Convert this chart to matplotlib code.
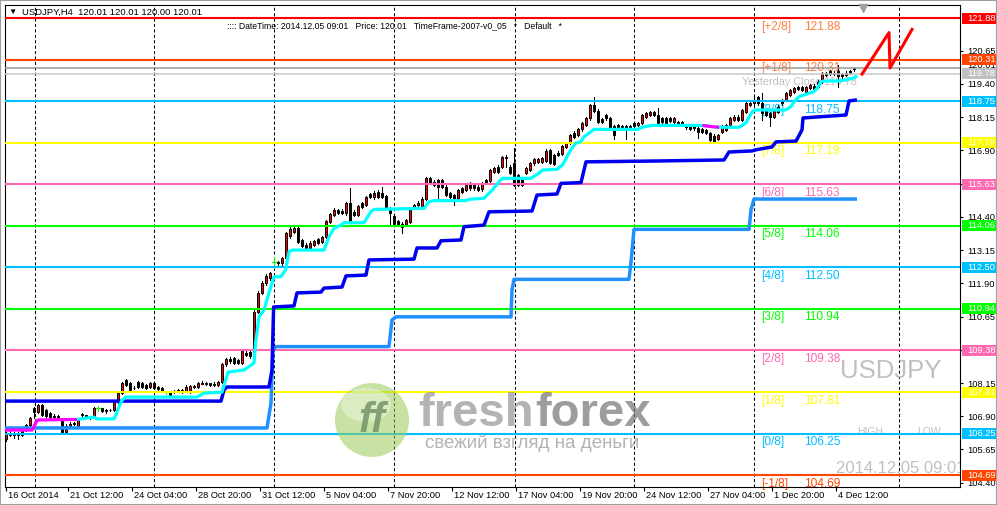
import matplotlib
matplotlib.use("Agg")
import matplotlib.pyplot as plt
from matplotlib.patches import Rectangle, Ellipse
from matplotlib.transforms import blended_transform_factory, ScaledTranslation

plt.rcParams['font.family'] = ['Liberation Sans', 'DejaVu Sans']

# ---------------- data (USDJPY H4, bar index 0 = first visible bar) ----------------
opens = [106.03,106.26,106.21,106.25,106.20,106.38,106.56,107.20,107.07,107.32,
         107.12,107.02,106.88,106.92,106.72,106.32,106.55,106.62,106.55,106.99,
         106.93,106.91,106.86,107.20,107.20,107.08,107.12,107.14,107.45,107.76,
         108.27,108.14,107.98,108.20,108.14,108.08,108.01,108.16,108.01,107.97,
         107.80,107.83,107.82,107.84,107.89,107.83,107.83,108.04,108.01,108.16,
         108.12,108.14,108.08,108.08,108.20,108.85,109.05,109.08,109.01,108.89,
         109.29,109.33,109.30,110.83,111.55,111.90,112.09,112.71,112.69,112.65,
         112.84,113.68,113.84,113.97,113.53,113.34,113.21,113.34,113.55,113.46,
         113.65,114.22,114.47,114.66,114.63,114.53,114.91,114.59,114.47,114.91,
         114.84,115.26,115.13,115.35,115.31,115.18,114.72,114.43,114.25,114.15,
         114.09,114.22,114.78,114.84,114.72,115.09,115.85,115.72,115.79,115.79,
         115.53,115.28,115.22,115.10,115.47,115.41,115.66,115.60,115.53,115.43,
         115.79,115.75,116.10,116.29,116.26,116.60,116.29,116.44,115.97,115.85,
         116.04,116.16,116.41,116.47,116.47,116.51,116.91,116.73,116.81,116.76,
         117.04,117.19,117.57,117.48,117.69,117.85,118.10,118.61,118.39,118.07,
         118.23,118.10,117.82,117.85,117.82,117.82,117.82,117.92,117.85,117.92,
         118.17,118.24,118.36,118.24,118.11,118.11,118.11,117.98,117.98,117.95,
         117.86,117.80,117.80,117.73,117.70,117.67,117.55,117.45,117.32,117.61,
         117.67,117.86,118.05,118.17,118.05,118.36,118.61,118.67,118.92,118.67,
         118.42,118.30,118.17,118.36,118.80,118.80,118.99,119.11,119.30,119.27,
         119.11,119.24,119.33,119.49,119.49,119.80,119.87,119.83,119.87,119.78,
         119.74,119.90,119.95]
closes = [106.26,106.21,106.25,106.20,106.38,106.56,106.84,107.07,107.32,106.95,
          106.92,106.88,106.92,106.88,106.32,106.55,106.62,106.63,106.76,106.93,
          106.91,106.86,107.20,107.20,107.08,107.12,107.14,107.45,107.76,108.14,
          108.08,107.89,107.95,108.01,108.01,107.95,108.14,107.95,107.91,107.89,
          107.80,107.70,107.84,107.89,107.83,108.01,108.04,108.01,108.16,108.12,
          108.14,108.08,108.12,108.20,108.85,109.05,108.98,108.90,108.90,109.39,
          109.22,109.16,110.83,111.55,111.90,112.17,112.27,112.71,112.65,112.84,
          113.78,113.93,113.97,113.46,113.30,113.21,113.43,113.49,113.43,113.63,
          114.25,114.50,114.66,114.56,114.56,114.91,114.22,114.47,114.81,114.78,
          115.16,115.16,115.31,115.16,115.16,114.72,114.53,114.15,114.15,114.03,
          114.28,114.66,114.84,114.93,115.09,115.85,115.66,115.60,115.53,115.53,
          115.22,115.16,115.10,115.41,115.35,115.60,115.47,115.47,115.41,115.68,
          115.66,116.16,116.22,116.10,116.66,116.66,116.04,115.60,115.60,115.60,
          116.22,116.44,116.56,116.56,116.60,116.89,116.44,116.39,116.73,117.06,
          117.16,117.48,117.41,117.69,117.94,118.10,118.61,118.39,117.98,117.98,
          118.10,117.73,117.48,117.77,117.77,117.77,117.77,117.82,117.94,118.24,
          118.30,118.36,118.24,117.92,117.95,117.92,118.02,118.11,117.90,117.86,
          117.77,117.70,117.73,117.61,117.61,117.55,117.29,117.23,117.48,117.80,
          117.86,118.11,118.17,118.05,118.42,118.67,118.67,118.80,118.67,118.30,
          118.24,118.17,118.42,118.55,118.67,119.05,119.18,119.24,119.20,119.18,
          119.30,119.36,119.20,119.30,119.80,119.74,119.78,119.78,119.70,119.68,
          119.83,119.83,120.01]
highs = [106.30,106.33,106.32,106.30,106.42,106.60,106.88,107.26,107.37,107.36,
         107.16,107.05,106.98,106.95,106.76,106.60,106.68,106.70,106.80,107.02,
         106.96,106.92,107.24,107.28,107.22,107.16,107.18,107.50,107.80,108.20,
         108.30,108.18,108.05,108.24,108.18,108.12,108.18,108.20,108.04,108.00,
         107.86,107.86,107.88,107.92,107.92,108.06,108.08,108.06,108.20,108.22,
         108.18,108.16,108.18,108.24,108.90,109.10,109.12,109.12,109.06,109.43,
         109.34,109.38,110.90,111.62,111.98,112.24,112.34,112.90,112.74,112.90,
         113.84,114.00,114.06,114.02,113.58,113.40,113.48,113.54,113.60,113.68,
         114.30,114.56,114.72,114.70,114.68,114.96,115.47,114.64,114.86,114.96,
         115.20,115.30,115.36,115.40,115.53,115.22,114.76,114.48,114.30,114.20,
         114.33,114.70,114.90,114.98,115.14,115.90,115.90,115.79,115.84,115.84,
         115.58,115.32,115.26,115.46,115.52,115.65,115.70,115.64,115.58,115.72,
         115.84,116.20,116.28,116.34,116.70,116.72,116.34,116.98,116.02,115.90,
         116.26,116.48,116.60,116.60,116.64,116.94,116.96,116.78,116.86,117.10,
         117.20,117.52,117.62,117.74,117.98,118.15,118.66,118.92,118.44,118.12,
         118.28,118.14,117.86,117.90,117.86,117.86,117.86,117.96,117.98,118.28,
         118.34,118.40,118.40,118.49,118.15,118.15,118.15,118.15,118.02,117.99,
         117.90,117.84,117.84,117.77,117.74,117.72,117.60,117.50,117.52,117.84,
         117.90,118.16,118.22,118.22,118.46,118.72,118.72,118.92,118.96,119.05,
         118.46,118.34,118.46,118.60,118.84,119.10,119.22,119.28,119.34,119.32,
         119.34,119.40,119.38,119.53,119.84,119.84,119.92,119.88,120.12,119.82,
         119.88,119.94,120.01]
lows = [105.98,106.14,106.10,106.06,106.16,106.33,106.52,106.84,107.02,106.92,
        106.88,106.84,106.84,106.82,106.28,106.26,106.50,106.56,106.50,106.88,
        106.86,106.80,106.82,107.10,107.05,107.04,107.08,107.10,107.40,107.72,
        108.04,107.85,107.92,107.98,107.98,107.92,107.98,107.92,107.88,107.85,
        107.74,107.66,107.78,107.80,107.78,107.80,107.78,107.96,107.98,108.10,
        108.08,108.04,108.04,108.04,108.16,108.80,108.92,108.86,108.86,108.85,
        109.16,109.10,109.24,110.78,111.50,111.84,112.04,112.46,112.60,112.60,
        112.80,113.62,113.80,113.42,113.26,113.16,113.16,113.30,113.38,113.42,
        113.60,114.18,114.42,114.52,114.50,114.48,114.18,114.42,114.42,114.74,
        114.80,115.12,115.08,115.12,115.12,114.68,114.15,114.10,114.10,113.78,
        114.04,114.18,114.72,114.80,114.68,115.03,115.62,115.55,115.03,115.48,
        115.18,115.12,114.85,115.06,115.30,115.36,115.42,115.42,115.36,115.38,
        115.62,115.70,116.05,116.05,116.22,116.26,116.00,115.55,115.55,115.55,
        116.00,116.12,116.36,116.42,116.42,116.46,116.40,116.34,116.68,116.72,
        117.00,117.15,117.36,117.44,117.64,117.80,118.05,118.34,117.94,117.94,
        118.05,117.68,117.31,117.72,117.72,117.31,117.72,117.78,117.80,117.88,
        118.12,118.20,118.20,117.88,117.90,117.88,117.98,117.94,117.86,117.82,
        117.72,117.66,117.68,117.36,117.56,117.50,117.24,117.18,117.28,117.56,
        117.62,117.82,118.00,118.00,118.00,118.32,118.56,118.62,118.62,118.05,
        118.20,117.80,118.12,118.32,118.62,118.76,118.94,119.06,119.16,119.14,
        119.06,119.20,119.16,119.26,119.44,119.70,119.74,119.74,119.30,119.64,
        119.70,119.78,119.90]

# trailing line (cyan) and its magenta parts
cyan_x = [17.75, 22, 22.75, 27, 27.5, 28.25, 29, 30, 47.75, 49.5, 54, 55.5, 59.5, 62, 62.4,
          63.25, 64.5, 66.2, 67, 68.7, 69.9, 70.75, 71.6, 79.5, 80.75, 82, 83.7, 84.5, 89.5,
          91.2, 92, 104.5, 105.75, 107, 114.9, 115.75, 119.5, 121.6, 123.25, 124.1, 131.2,
          133.25, 134.1, 137.8, 139.1, 141.2, 142.4, 143.7, 144.5, 146.2, 147, 157.8, 159.5,
          161.6, 174.1, 178.25, 183.25, 184.9, 186.6, 187.4, 194.9, 196.2, 197.4, 198.25,
          200.75, 202, 202.8, 203.7, 204.5, 208.25, 209.9, 211.6, 212.8]
cyan_y = [106.78, 106.87, 106.80, 106.80, 106.95, 107.25, 107.51, 107.62, 107.62, 107.77,
          107.81, 108.56, 108.64, 108.90, 109.66, 110.64, 110.90, 111.77, 112.15, 112.15,
          112.40, 113.09, 113.15, 113.15, 113.65, 113.97, 114.09, 114.18, 114.18, 114.59,
          114.68, 114.72, 114.97, 115.01, 115.01, 115.06, 115.10, 115.41, 115.72, 115.85,
          115.85, 116.04, 116.16, 116.19, 116.35, 116.92, 117.17, 117.23, 117.41, 117.60,
          117.69, 117.69, 117.79, 117.84, 117.84, 117.77, 117.77, 117.92, 118.36, 118.42,
          118.42, 118.54, 118.80, 118.92, 119.05, 119.11, 119.24, 119.48, 119.51, 119.51,
          119.55, 119.61, 119.70]
magenta1_x = [-0.25, 6.5, 7, 7.5, 8, 17.75]
magenta1_y = [106.38, 106.38, 106.50, 106.68, 106.76, 106.78]
magenta2_x = [174.1, 176, 178.25]
magenta2_y = [117.84, 117.80, 117.77]

# dark blue step line
blue_x = [-0.25, 53.75, 54.5, 55.25, 65.75, 66.5, 66.9, 72, 72.75, 78.75, 79.5, 84, 85, 90,
          90.75, 102, 102.75, 107.75, 108.75, 113.75, 114.5, 119.5, 120.75, 131.5, 132.75,
          137.75, 138.75, 143.75, 145, 162, 179.5, 180.75, 186.5, 187.75, 191.5, 192.5, 197.5,
          199, 199.25, 204, 210, 210.75, 212.75]
blue_y = [107.47, 107.47, 107.89, 108.00, 108.00, 108.64, 111.01, 111.05, 111.54, 111.57,
          111.72, 111.76, 112.18, 112.21, 112.78, 112.81, 113.23, 113.23, 113.50, 113.53,
          114.03, 114.09, 114.59, 114.62, 115.22, 115.26, 115.66, 115.69, 116.47, 116.50,
          116.54, 116.84, 116.88, 116.93, 117.03, 117.22, 117.25, 117.67, 118.12, 118.17,
          118.23, 118.76, 118.80]

# dodger blue step line
dodger_x = [-0.25, 65.25, 66.25, 66.75, 67.5, 95.75, 96.5, 97.5, 126.25, 126.5, 127, 155.75,
            156.25, 157, 185.75, 186.25, 187, 212.75]
dodger_y = [106.46, 106.46, 107.40, 109.39, 109.52, 109.52, 110.52, 110.64, 110.64, 111.65,
            112.05, 112.05, 112.70, 113.93, 113.93, 114.66, 115.07, 115.07]

# Murrey math levels
mm_levels = [121.88, 120.31, 118.75, 117.19, 115.63, 114.06, 112.50, 110.94, 109.38, 107.81, 106.25, 104.69]
mm_names = ["[+2/8]", "[+1/8]", "[8/8]", "[7/8]", "[6/8]", "[5/8]", "[4/8]", "[3/8]", "[2/8]", "[1/8]", "[0/8]", "[-1/8]"]
mm_colors = ["#FF0000", "#FF4500", "#00BFFF", "#FFFF00", "#FF69B4", "#00FF00", "#00BFFF", "#00FF00",
             "#FF69B4", "#FFFF00", "#00BFFF", "#FF4500"]
mm_text_colors = ["#FF7F3F", "#FF7F3F", "#00BFFF", "#FFFF00", "#FF69B4", "#00FF00", "#00BFFF", "#00FF00",
                  "#FF69B4", "#FFFF00", "#00BFFF", "#FF4500"]
bid_price = 120.01
yesterday_close = 119.78

# projection zigzag (bar index, price)
zig_x = [214, 220.75, 221, 226.5]
zig_y = [119.77, 121.33, 120.00, 121.45]

ytick_vals = [120.65, 119.40, 118.15, 116.90, 115.65, 114.40, 113.15, 111.90, 110.65, 109.40,
              108.15, 106.90, 105.65, 104.40]
xtick_labels = ["16 Oct 2014", "21 Oct 12:00", "24 Oct 04:00", "28 Oct 20:00", "31 Oct 12:00",
                "5 Nov 04:00", "7 Nov 20:00", "12 Nov 12:00", "17 Nov 04:00", "19 Nov 20:00",
                "24 Nov 12:00", "27 Nov 04:00", "1 Dec 20:00", "4 Dec 12:00"]
xtick_bars = [0, 15.5, 31.5, 47.5, 63.5, 79.5, 95.5, 111.5, 127.5, 143.5, 159.5, 175.5, 191.5, 207.5]
grid_bars = [7.25, 37, 67, 97, 127.25, 157, 187, 223.25]

# ---------------- figure ----------------
W, H = 997, 505
fig = plt.figure(figsize=(W / 100, H / 100), dpi=100, facecolor='white')
L, R, T, B = 5, 960, 5, 487
ax = fig.add_axes([L / W, 1 - B / H, (R - L) / W, (B - T) / H])
ax.set_facecolor('white')
ax.set_xlim(-0.25, 238.5)
ax.set_ylim(104.239, 122.369)
for s in ax.spines.values():
    s.set_linewidth(0.8)
    s.set_color('black')

PX = 1 / 26.585  # price units per pixel

# grid
for g in grid_bars:
    ax.axvline(g, color='black', lw=0.75, ls=(0, (3, 2.2)), zorder=1)

# candles
for i, (o, h, l, c) in enumerate(zip(opens, highs, lows, closes)):
    if o == c:
        ax.plot([i, i], [l, h], color='#00FF00', lw=0.8, zorder=2)
        ax.plot([i - 0.4, i + 0.4], [o, o], color='#00FF00', lw=0.8, zorder=2)
    else:
        ax.plot([i, i], [l, h], color='black', lw=0.75, zorder=2)
        ax.add_patch(Rectangle((i - 0.33, min(o, c)), 0.66, abs(c - o),
                               facecolor='#FF0000' if c > o else 'black',
                               edgecolor='black', lw=0.7, zorder=2.1))

# horizontal levels
for lvl, col in zip(mm_levels, mm_colors):
    ax.axhline(lvl, color=col, lw=1.5, zorder=3)
ax.axhline(bid_price, color='#9A9A9A', lw=1.1, zorder=3)
ax.axhline(yesterday_close, color='#C8C8C8', lw=1.1, zorder=3)

# step lines
ax.plot(dodger_x, dodger_y, color='#1E90FF', lw=2.5, zorder=4, solid_capstyle='butt')
ax.plot(blue_x, blue_y, color='#0000F0', lw=2.5, zorder=5, solid_capstyle='butt')
ax.plot(cyan_x, cyan_y, color='#00FFFF', lw=2.3, zorder=6, solid_capstyle='butt')
ax.plot(magenta1_x, magenta1_y, color='#FF00FF', lw=2.3, zorder=6.5, solid_capstyle='butt')
ax.plot(magenta2_x, magenta2_y, color='#FF00FF', lw=2.3, zorder=6.5, solid_capstyle='butt')

# zigzag projection
ax.plot(zig_x, zig_y, color='#FF0000', lw=2.2, zorder=7)

# shift marker
ax.plot([214.25], [122.27], marker='v', color='#A0A0A0', markersize=6, clip_on=False, zorder=8)

# Murrey labels inside plot
for lvl, name, tc in zip(mm_levels, mm_names, mm_text_colors):
    ax.text(188.75, lvl - 8.5 * PX, name, color=tc, fontsize=8.6, va='center', ha='left', zorder=1.5)
    ax.text(199.6, lvl - 8.5 * PX, f"{lvl:.2f}", color=tc, fontsize=8.6, va='center', ha='left', zorder=1.5)

ax.text(183.9, yesterday_close - 8.5 * PX, f"Yesterday Close {yesterday_close:.2f}", color='#C0C0C0',
        fontsize=7.8, va='center', ha='left', zorder=1.5)

# gray watermark texts
ax.text(208.5, 108.60, "USDJPY", color='#C0C0C0', fontsize=18.5, va='center', ha='left', zorder=1.5)
ax.text(212.75, 106.27 + 1.5 * PX, "HIGH", color='#C0C0C0', fontsize=7.5, va='center', ha='left', zorder=1.5)
ax.text(227.75, 106.27 + 1.5 * PX, "LOW", color='#C0C0C0', fontsize=7.5, va='center', ha='left', zorder=1.5)
ax.text(207.5, 104.95, "2014.12.05 09:01", color='#C0C0C0', fontsize=12, va='center', ha='left',
        zorder=1.5, clip_on=True)

# axes ticks
ax.yaxis.tick_right()
ax.set_yticks(ytick_vals)
ax.set_yticklabels([f"{v:.2f}" for v in ytick_vals])
ax.tick_params(axis='y', direction='out', length=2.5, width=0.8, labelsize=6.7, pad=2.5, colors='black')
ax.set_xticks(xtick_bars)
ax.set_xticklabels([])
ax.tick_params(axis='x', direction='out', length=3, width=0.8)
xlab_tr = blended_transform_factory(ax.transData, ax.transAxes) + ScaledTranslation(2 / 100, -9 / 100, fig.dpi_scale_trans)
for xb, lab in zip(xtick_bars, xtick_labels):
    ax.text(xb, 0, lab, transform=xlab_tr, fontsize=6.7, va='center', ha='left', clip_on=False)

# price boxes on the right axis
trb = blended_transform_factory(fig.transFigure, ax.transData)
fig.text(967 / W, bid_price + 2 * PX, f"{bid_price:.2f}", transform=trb, color='black', fontsize=6.7,
         va='center', ha='left', zorder=4)
box_h = 11 * PX
for lvl, col in list(zip(mm_levels, mm_colors)) + [(yesterday_close, '#C0C0C0')]:
    fig.add_artist(Rectangle((961.5 / W, lvl - box_h / 2), (W - 961.5) / W, box_h, transform=trb,
                             facecolor=col, edgecolor='none', zorder=5))
    fig.text(967 / W, lvl, f"{lvl:.2f}", transform=trb, color='white', fontsize=6.7,
             va='center', ha='left', zorder=6)

# freshforex watermark logo
fig.add_artist(Ellipse((372 / W, 1 - 420 / H), 74 / W, 74 / H, transform=fig.transFigure,
                       facecolor='#9BCB5A', edgecolor='none', alpha=0.55, zorder=7))
fig.add_artist(Ellipse((366 / W, 1 - 405 / H), 50 / W, 34 / H, transform=fig.transFigure,
                       facecolor='white', edgecolor='none', alpha=0.35, zorder=7))
fig.text(372 / W, 1 - 421 / H, "ff", color='#6E8F62', alpha=0.8, fontsize=30, fontweight='bold',
         fontstyle='italic', ha='center', va='center', zorder=8)
fig.text(418 / W, 1 - 426 / H, "fresh", color='#9A9A9A', alpha=0.75, fontsize=34, fontweight='bold',
         ha='left', va='baseline', zorder=8)
fig.text(535 / W, 1 - 426 / H, "forex", color='#7C7C7C', alpha=0.75, fontsize=34, fontweight='bold',
         ha='left', va='baseline', zorder=8)
fig.text(425 / W, 1 - 443 / H, "свежий взгляд на деньги", color='#A0A0A0', alpha=0.8, fontsize=13.5,
         ha='left', va='center', zorder=8)

# header texts
fig.text(8 / W, 1 - 12.5 / H, "\u25BC", fontsize=6, va='center', ha='left', zorder=9)
fig.text(22 / W, 1 - 12.5 / H, "USDJPY,H4  120.01 120.01 120.00 120.01", fontsize=6.8, va='center',
         ha='left', zorder=9)
fig.text(227 / W, 1 - 25.5 / H,
         ":::: DateTime: 2014.12.05 09:01   Price: 120.01   TimeFrame-2007-v0_05   *   Default   *",
         fontsize=6.2, va='center', ha='left', zorder=9)

# outer frame
fig.add_artist(Rectangle((0, 0), 1, 1, transform=fig.transFigure, fill=False, edgecolor='#A0A0A0',
                         lw=1.5, zorder=10))

fig.savefig("out.png", dpi=100, facecolor='white')
